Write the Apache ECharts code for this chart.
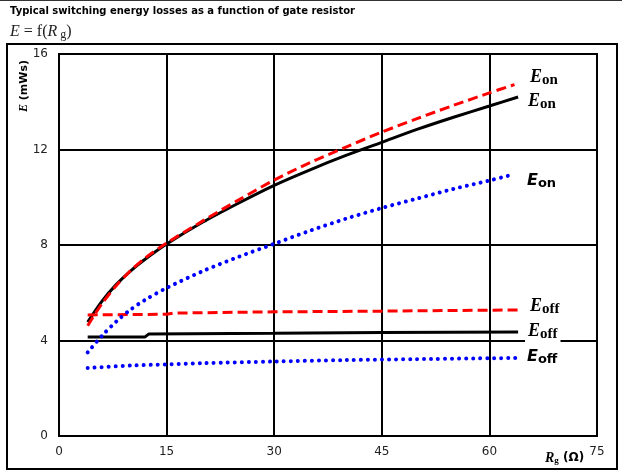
<!DOCTYPE html>
<html><head><meta charset="utf-8">
<script src="https://cdn.jsdelivr.net/npm/echarts@6/dist/echarts.min.js"></script>
<style>html,body{margin:0;padding:0;background:#fff}#c{width:622px;height:476px}</style>
</head><body><div id="c"></div>
<script>
const rgOn = [4, 6, 8, 10, 12, 15, 20, 25, 30, 35, 40, 45, 50, 55, 60, 64];
const eonBlack = [4.77, 5.65, 6.35, 6.92, 7.4, 8.04, 8.95, 9.75, 10.5, 11.15, 11.75, 12.3, 12.85, 13.35, 13.82, 14.2];
const rgOnRed = [4, 6, 8, 10, 12, 15, 20, 25, 30, 35, 40, 45, 50, 55, 60, 63.5];
const eonRed = [4.62, 5.55, 6.3, 6.93, 7.45, 8.08, 9.0, 9.88, 10.72, 11.45, 12.1, 12.73, 13.3, 13.85, 14.37, 14.72];
const rgOnBlue = [4, 6, 8, 10, 12, 15, 20, 25, 30, 35, 40, 45, 50, 55, 60, 63.5];
const eonBlue = [3.5, 4.2, 4.8, 5.3, 5.7, 6.2, 6.9, 7.5, 8.05, 8.6, 9.1, 9.55, 9.95, 10.35, 10.7, 10.97];
const rgOffBlack = [4, 12, 12.5, 30, 45, 64];
const eoffBlack = [4.15, 4.15, 4.27, 4.3, 4.33, 4.36];
const rgOffRed = [4, 15, 16, 30, 45, 64];
const eoffRed = [5.07, 5.1, 5.15, 5.2, 5.23, 5.28];
const rgOffBlue = [4, 10, 15, 20, 30, 40, 50, 64];
const eoffBlue = [2.85, 2.95, 3.0, 3.05, 3.12, 3.18, 3.22, 3.27];
const xTicks = [0, 15, 30, 45, 60, 75];
const yTicks = [0, 4, 8, 12, 16];

const zip = (xs, ys) => xs.map((x, i) => [x, ys[i]]);
const chart = echarts.init(document.getElementById('c'));
const black = '#000', red = '#ff0000', blue = '#0000ff';
function lbl(x, y, color, sub, serif) {
  const fam = serif ? 'Liberation Serif' : 'DejaVu Sans';
  return {type: 'text', left: x, top: y, z: 10,
    style: {text: '{e|E}{s|' + sub + '}', backgroundColor: '#fff', padding: [0, 3, 0, 3],
      rich: {e: {fontFamily: fam, fontStyle: 'italic', fontWeight: 'bold', fontSize: serif ? 18 : 16, color: color},
             s: {fontFamily: fam, fontWeight: 'bold', fontSize: serif ? 15 : 13, color: color, verticalAlign: 'bottom', padding: [6, 0, 0, 0]}}}};
}
const curve = {type: 'line', smooth: 0.3, symbol: 'none'};
chart.setOption({
  animation: false,
  grid: {left: 59, top: 54, right: 25, bottom: 40, show: true, borderColor: '#000', borderWidth: 2},
  xAxis: {type: 'value', min: 0, max: 75, interval: 15,
    axisLine: {show: false}, axisTick: {show: false},
    axisLabel: {color: '#222', fontFamily: 'DejaVu Sans', fontSize: 12, margin: 10,
      formatter: v => xTicks.includes(v) ? String(v) : ''},
    splitLine: {show: true, lineStyle: {color: '#000', width: 2}}},
  yAxis: {type: 'value', min: 0, max: 16, interval: 4,
    axisLine: {show: false}, axisTick: {show: false},
    axisLabel: {color: '#222', fontFamily: 'DejaVu Sans', fontSize: 12, margin: 11,
      formatter: v => yTicks.includes(v) ? String(v) : ''},
    splitLine: {show: true, lineStyle: {color: '#000', width: 2}}},
  series: [
    Object.assign({}, curve, {data: zip(rgOn, eonBlack), lineStyle: {color: black, width: 3}}),
    {type: 'line', data: zip(rgOffBlack, eoffBlack), symbol: 'none', lineStyle: {color: black, width: 3}},
    Object.assign({}, curve, {data: zip(rgOnRed, eonRed), lineStyle: {color: red, width: 3, type: [10, 5]}}),
    {type: 'line', data: zip(rgOffRed, eoffRed), symbol: 'none', lineStyle: {color: red, width: 3, type: [10, 5]}},
    Object.assign({}, curve, {data: zip(rgOnBlue, eonBlue), lineStyle: {color: blue, width: 4, type: [0.01, 7], cap: 'round'}}),
    Object.assign({}, curve, {data: zip(rgOffBlue, eoffBlue), lineStyle: {color: blue, width: 4, type: [0.01, 7], cap: 'round'}})
  ],
  graphic: [
    {type: 'rect', shape: {x: 0, y: 0, width: 622, height: 1}, style: {fill: '#333'}},
    {type: 'rect', shape: {x: 7, y: 44, width: 610, height: 425}, style: {fill: 'none', stroke: '#000', lineWidth: 2}, z: -1},
    {type: 'text', left: 10, top: 6, style: {text: 'Typical switching energy losses as a function of gate resistor', fontFamily: 'DejaVu Sans', fontWeight: 'bold', fontSize: 10, fill: '#000'}},
    {type: 'text', left: 10, top: 24, style: {text: '{i|E} = f({i|R}{s| g})', fontFamily: 'Liberation Serif', fontSize: 16, fill: '#222',
      rich: {i: {fontFamily: 'Liberation Serif', fontStyle: 'italic', fontSize: 16, color: '#222'}, s: {fontFamily: 'Liberation Serif', fontSize: 12, color: '#222', padding: [5, 0, 0, 0]}}}},
    {type: 'text', left: 18, top: 60, rotation: Math.PI / 2, originX: 0, originY: 0,
      style: {text: '{i|E} (mWs)', fontFamily: 'DejaVu Sans', fontWeight: 'bold', fontSize: 11, fill: '#000',
        rich: {i: {fontFamily: 'Liberation Serif', fontStyle: 'italic', fontWeight: 'bold', fontSize: 12}}}},
    {type: 'text', left: 545, top: 451, style: {text: '{i|R}{s|g}{t| (Ω)}',
      rich: {i: {fontFamily: 'Liberation Serif', fontStyle: 'italic', fontWeight: 'bold', fontSize: 14, color: '#000'},
             s: {fontFamily: 'Liberation Serif', fontWeight: 'bold', fontSize: 9, color: '#000', padding: [6, 0, 0, 0]},
             t: {fontFamily: 'DejaVu Sans', fontWeight: 'bold', fontSize: 12, color: '#000'}}}},
    lbl(527, 67, red, 'on', true),
    lbl(525, 91, black, 'on', true),
    lbl(524, 171, blue, 'on', false),
    lbl(527, 296, red, 'off', true),
    lbl(525, 321, black, 'off', true),
    lbl(524, 347, blue, 'off', false)
  ]
});
</script></body></html>
